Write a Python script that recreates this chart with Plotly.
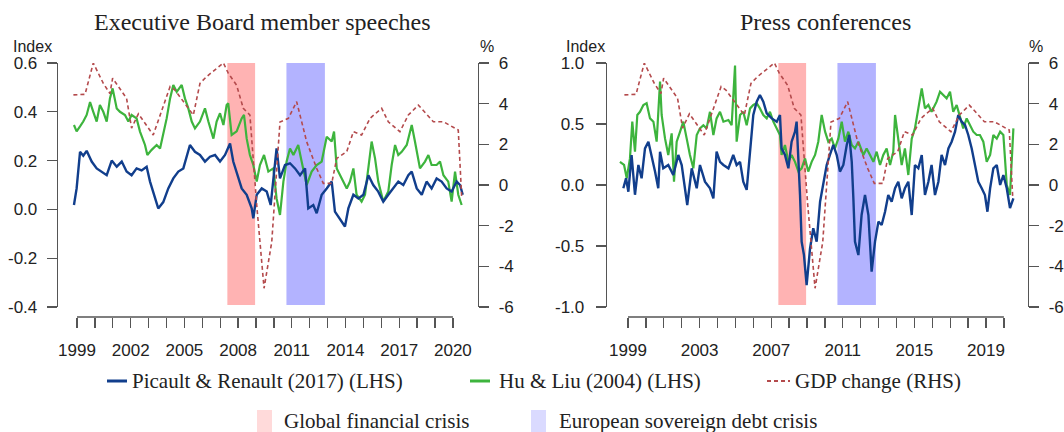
import plotly.graph_objects as go

# ---------------- data ----------------
gdp_year = [1998.80, 1999.45, 1999.91, 2000.47, 2000.84, 2000.99, 2001.77, 2002.05, 2002.43, 2003.26,
            2004.20, 2004.47, 2005.50, 2005.87, 2006.24, 2007.18, 2007.45, 2007.92, 2008.29, 2008.66,
            2009.04, 2009.45, 2009.88, 2010.34, 2010.81, 2011.27, 2011.83, 2012.39, 2012.76, 2013.23,
            2013.51, 2014.07, 2014.44, 2014.90, 2015.37, 2016.02, 2016.39, 2017.04, 2017.51, 2018.07,
            2018.91, 2019.47, 2020.30, 2020.49]
gdp_change = [4.43, 4.46, 6.0, 5.0, 4.5, 5.25, 4.26, 2.8, 3.5, 2.46,
              4.84, 4.67, 3.44, 5.0, 5.33, 6.0, 5.5, 4.9, 3.77, 3.44,
              -0.98, -5.08, -2.8, 3.1, 3.28, 4.1, 2.13, 0.82, 0.08, 0.08,
              1.31, 1.64, 2.62, 2.46, 3.28, 3.77, 3.11, 2.62, 3.44, 3.93,
              3.11, 3.11, 2.7, -0.57]

# Executive Board member speeches
eb_pr_year = [1998.83, 1998.98, 1999.17, 1999.35, 1999.54, 1999.82, 2000.10, 2000.38, 2000.66, 2000.94,
              2001.22, 2001.50, 2001.77, 2002.05, 2002.33, 2002.61, 2002.89, 2003.08, 2003.36, 2003.54,
              2003.82, 2004.10, 2004.38, 2004.66, 2004.94, 2005.13, 2005.31, 2005.59, 2005.87, 2006.15,
              2006.43, 2006.71, 2006.99, 2007.27, 2007.55, 2007.73, 2007.92, 2008.20, 2008.48, 2008.76,
              2008.85, 2009.04, 2009.32, 2009.60, 2009.82, 2010.06, 2010.15, 2010.34, 2010.62, 2010.90,
              2011.18, 2011.46, 2011.74, 2011.92, 2012.20, 2012.39, 2012.67, 2012.95, 2013.23, 2013.41,
              2013.69, 2013.97, 2014.16, 2014.44, 2014.72, 2015.00, 2015.28, 2015.55, 2015.83, 2016.11,
              2016.39, 2016.67, 2016.95, 2017.23, 2017.51, 2017.70, 2017.98, 2018.26, 2018.53, 2018.81,
              2019.09, 2019.37, 2019.65, 2019.93, 2020.21, 2020.40, 2020.55]
eb_pr = [0.018, 0.086, 0.236, 0.22, 0.24, 0.196, 0.168, 0.155, 0.14, 0.20,
         0.175, 0.196, 0.155, 0.14, 0.168, 0.16, 0.175, 0.114, 0.045, 0.004,
         0.03, 0.086, 0.127, 0.155, 0.168, 0.223, 0.264, 0.236, 0.223, 0.196,
         0.216, 0.223, 0.196, 0.223, 0.27, 0.196, 0.155, 0.086, 0.06, 0.004,
         -0.037, 0.06, 0.086, 0.073, 0.018, 0.196, 0.25, 0.127, 0.182, 0.189,
         0.168, 0.14, 0.168, 0.004, 0.018, -0.016, 0.06, 0.086, 0.114, -0.009,
         -0.037, -0.07, 0.004, 0.06, 0.045, 0.06, 0.14, 0.10, 0.073, 0.032,
         0.06, 0.086, 0.114, 0.10, 0.14, 0.155, 0.086, 0.06, 0.114, 0.086,
         0.127, 0.114, 0.086, 0.073, 0.114, 0.10, 0.06]

eb_hl_year = [1998.83, 1998.98, 1999.17, 1999.35, 1999.54, 1999.73, 1999.91, 2000.10, 2000.28, 2000.47,
              2000.66, 2000.84, 2000.99, 2001.22, 2001.40, 2001.68, 2001.87, 2002.05, 2002.33, 2002.52,
              2002.80, 2002.93, 2003.17, 2003.45, 2003.64, 2003.82, 2004.01, 2004.20, 2004.38, 2004.57,
              2004.85, 2005.03, 2005.22, 2005.41, 2005.59, 2005.87, 2006.15, 2006.34, 2006.62, 2006.80,
              2006.99, 2007.18, 2007.36, 2007.45, 2007.64, 2007.92, 2008.20, 2008.33, 2008.48, 2008.66,
              2008.85, 2009.04, 2009.22, 2009.45, 2009.69, 2009.97, 2010.15, 2010.34, 2010.53, 2010.71,
              2010.90, 2011.09, 2011.36, 2011.55, 2011.83, 2012.11, 2012.39, 2012.67, 2012.95, 2013.23,
              2013.36, 2013.51, 2013.79, 2014.07, 2014.25, 2014.44, 2014.62, 2014.90, 2015.09, 2015.28,
              2015.46, 2015.65, 2015.83, 2016.11, 2016.39, 2016.58, 2016.77, 2016.95, 2017.14, 2017.42,
              2017.70, 2017.88, 2018.16, 2018.44, 2018.63, 2018.81, 2019.09, 2019.28, 2019.47, 2019.74,
              2019.93, 2020.12, 2020.30, 2020.49]
eb_hl = [0.346, 0.32, 0.34, 0.36, 0.387, 0.44, 0.40, 0.36, 0.428, 0.40,
         0.36, 0.455, 0.496, 0.414, 0.40, 0.387, 0.36, 0.387, 0.373, 0.319,
         0.264, 0.223, 0.244, 0.264, 0.25, 0.305, 0.373, 0.455, 0.51, 0.482,
         0.51, 0.455, 0.414, 0.36, 0.332, 0.36, 0.414, 0.36, 0.29, 0.36,
         0.394, 0.346, 0.428, 0.435, 0.305, 0.32, 0.373, 0.387, 0.29, 0.223,
         0.182, 0.114, 0.182, 0.223, 0.155, 0.168, 0.045, -0.023, 0.114, 0.196,
         0.25, 0.223, 0.264, 0.196, 0.10, 0.155, 0.182, 0.196, 0.298, 0.278,
         0.319, 0.168, 0.127, 0.086, 0.114, 0.168, 0.06, 0.032, 0.06, 0.182,
         0.278, 0.209, 0.114, 0.032, 0.073, 0.182, 0.264, 0.223, 0.236, 0.264,
         0.346, 0.278, 0.168, 0.196, 0.223, 0.182, 0.182, 0.196, 0.14, 0.114,
         0.032, 0.155, 0.06, 0.018]

# Press conferences
pc_pr_year = [1998.74, 1998.89, 1999.02, 1999.20, 1999.39, 1999.58, 1999.76, 1999.95, 2000.14, 2000.32,
              2000.51, 2000.69, 2000.79, 2000.97, 2001.25, 2001.53, 2001.81, 2002.00, 2002.18, 2002.31,
              2002.56, 2002.84, 2003.02, 2003.30, 2003.58, 2003.77, 2003.95, 2004.14, 2004.33, 2004.61,
              2004.88, 2005.07, 2005.26, 2005.44, 2005.63, 2005.82, 2006.00, 2006.19, 2006.37, 2006.56,
              2006.75, 2007.03, 2007.31, 2007.49, 2007.58, 2007.77, 2007.96, 2008.14, 2008.33, 2008.42,
              2008.52, 2008.61, 2008.70, 2008.83, 2008.98, 2009.17, 2009.35, 2009.54, 2009.73, 2009.91,
              2010.10, 2010.28, 2010.47, 2010.66, 2010.84, 2011.03, 2011.22, 2011.36, 2011.50, 2011.59,
              2011.68, 2011.87, 2012.05, 2012.24, 2012.43, 2012.61, 2012.80, 2012.99, 2013.17, 2013.36,
              2013.54, 2013.73, 2013.92, 2014.10, 2014.29, 2014.47, 2014.66, 2014.85, 2015.03, 2015.22,
              2015.41, 2015.59, 2015.78, 2015.96, 2016.15, 2016.34, 2016.52, 2016.71, 2016.90, 2017.08,
              2017.27, 2017.45, 2017.64, 2017.83, 2018.01, 2018.20, 2018.39, 2018.57, 2018.76, 2018.94,
              2019.08, 2019.23, 2019.41, 2019.60, 2019.79, 2019.97, 2020.16, 2020.34, 2020.53]
pc_pr = [-0.027, 0.055, -0.055, 0.246, -0.08, 0.164, 0.055, 0.30, 0.355, 0.246,
         0.11, -0.027, 0.273, 0.137, 0.164, 0.082, 0.246, 0.164, -0.027, -0.164,
         0.137, -0.027, 0.164, 0.027, -0.027, -0.109, 0.273, 0.19, 0.164, 0.137,
         0.246, 0.164, 0.19, 0.027, -0.04, 0.246, 0.574, 0.683, 0.738, 0.683,
         0.587, 0.546, 0.519, 0.574, 0.30, 0.246, 0.137, 0.355, 0.437, 0.519,
         0.246, -0.082, -0.464, -0.574, -0.82, -0.52, -0.355, -0.464, -0.137, 0.027,
         0.164, 0.246, 0.328, 0.246, 0.11, 0.164, 0.328, 0.41, 0.19, -0.109,
         -0.464, -0.574, -0.246, -0.082, -0.246, -0.71, -0.464, -0.30, -0.328, -0.219,
         -0.082, -0.137, -0.027, 0.027, -0.109, -0.027, 0.027, -0.246, 0.164, 0.137,
         0.246, -0.082, 0.027, 0.164, -0.082, 0.027, 0.246, 0.164, 0.30, 0.355,
         0.437, 0.574, 0.519, 0.49, 0.41, 0.30, 0.164, 0.027, -0.027, -0.082,
         -0.219, -0.027, 0.137, 0.164, 0.0, 0.082, -0.027, -0.19, -0.11]

pc_hl_year = [1998.55, 1998.78, 1998.93, 1999.11, 1999.24, 1999.39, 1999.52, 1999.67, 1999.86, 2000.04,
              2000.23, 2000.42, 2000.60, 2000.79, 2000.88, 2001.07, 2001.25, 2001.44, 2001.57, 2001.72,
              2001.91, 2002.09, 2002.28, 2002.46, 2002.65, 2002.84, 2003.02, 2003.21, 2003.39, 2003.58,
              2003.77, 2003.95, 2004.14, 2004.33, 2004.61, 2004.79, 2004.98, 2005.07, 2005.26, 2005.44,
              2005.63, 2005.82, 2006.00, 2006.19, 2006.37, 2006.56, 2006.75, 2006.93, 2007.12, 2007.31,
              2007.49, 2007.58, 2007.77, 2007.96, 2008.14, 2008.33, 2008.52, 2008.70, 2008.89, 2009.07,
              2009.26, 2009.45, 2009.63, 2009.82, 2010.01, 2010.19, 2010.38, 2010.56, 2010.75, 2010.94,
              2011.12, 2011.31, 2011.50, 2011.68, 2011.87, 2012.15, 2012.33, 2012.52, 2012.71, 2012.89,
              2013.08, 2013.26, 2013.45, 2013.64, 2013.82, 2013.92, 2014.10, 2014.29, 2014.47, 2014.66,
              2014.85, 2015.03, 2015.22, 2015.41, 2015.59, 2015.78, 2015.96, 2016.24, 2016.43, 2016.62,
              2016.80, 2016.99, 2017.17, 2017.36, 2017.55, 2017.73, 2017.92, 2018.11, 2018.29, 2018.48,
              2018.66, 2018.85, 2019.04, 2019.23, 2019.41, 2019.60, 2019.79, 2019.97, 2020.16, 2020.34,
              2020.53]
pc_hl = [0.19, 0.164, 0.055, 0.218, 0.519, 0.273, 0.574, 0.60, 0.656, 0.67,
         0.546, 0.519, 0.355, 0.847, 0.574, 0.38, 0.246, 0.423, 0.027, 0.355,
         0.437, 0.519, 0.38, 0.246, 0.137, 0.41, 0.464, 0.49, 0.464, 0.60,
         0.41, 0.546, 0.60, 0.519, 0.533, 0.49, 0.98, 0.355, 0.574, 0.60,
         0.49, 0.628, 0.656, 0.67, 0.628, 0.574, 0.546, 0.60, 0.519, 0.464,
         0.41, 0.246, 0.328, 0.19, 0.246, 0.19, 0.11, 0.137, 0.218, 0.11,
         0.19, 0.246, 0.355, 0.574, 0.437, 0.355, 0.38, 0.30, 0.38, 0.519,
         0.355, 0.437, 0.328, 0.30, 0.355, 0.246, 0.30, 0.246, 0.19, 0.273,
         0.164, 0.246, 0.30, 0.164, 0.273, 0.574, 0.38, 0.164, 0.30, 0.082,
         0.38, 0.464, 0.628, 0.792, 0.628, 0.656, 0.60, 0.683, 0.765, 0.738,
         0.71, 0.765, 0.60, 0.656, 0.546, 0.464, 0.546, 0.49, 0.437, 0.41,
         0.41, 0.355, 0.19, 0.246, 0.41, 0.38, 0.437, 0.41, 0.0, -0.082,
         0.464]

# crisis periods (start, end)
gfc_period = [2007.40, 2008.95]
esdc_period = [2010.70, 2012.85]

# ticks and labels
years = list(range(1999, 2021))
left_xlabels = [str(y) if (y - 1999) % 3 == 0 else "" for y in years]
right_xlabels = [str(y) if (y - 1999) % 4 == 0 else "" for y in years]
eb_idx_ticks = [-0.4, -0.2, 0.0, 0.2, 0.4, 0.6]
eb_idx_text = ["-0.4", "-0.2", "0.0", "0.2", "0.4", "0.6"]
pc_idx_ticks = [-1.0, -0.5, 0.0, 0.5, 1.0]
pc_idx_text = ["-1.0", "-0.5", "0.0", "0.5", "1.0"]
pct_ticks = [-6, -4, -2, 0, 2, 4, 6]
pct_text = ["-6", "-4", "-2", "0", "2", "4", "6"]

titles = ["Executive Board member speeches", "Press conferences"]
series_names = ["Picault & Renault (2017) (LHS)", "Hu & Liu (2004) (LHS)", "GDP change (RHS)"]
crisis_names = ["Global financial crisis", "European sovereign debt crisis"]

# ---------------- style ----------------
W, H = 1064, 432
BLUE = "#113E8C"
GREEN = "#3DB43D"
RED = "#B44A4C"
AX = "#555555"
TXT = "#222222"
PINK = "#FFB3B3"
LILAC = "#B3B3FF"
PINK_L = "#FFDADA"
LILAC_L = "#DADAFF"
SANS = "Liberation Sans, Arial, sans-serif"
SERIF = "Liberation Serif, Times New Roman, serif"


def fx(p):
    return p / W


def fy(p):
    return 1 - p / H


fig = go.Figure()

panels = [
    dict(x="x", yl="y", yr="y2", pr=(eb_pr_year, eb_pr), hl=(eb_hl_year, eb_hl)),
    dict(x="x2", yl="y3", yr="y4", pr=(pc_pr_year, pc_pr), hl=(pc_hl_year, pc_hl)),
]
for p in panels:
    fig.add_trace(go.Scatter(x=p["hl"][0], y=p["hl"][1], xaxis=p["x"], yaxis=p["yl"], mode="lines",
                             line=dict(color=GREEN, width=2.2), showlegend=False, hoverinfo="skip"))
    fig.add_trace(go.Scatter(x=p["pr"][0], y=p["pr"][1], xaxis=p["x"], yaxis=p["yl"], mode="lines",
                             line=dict(color=BLUE, width=2.4), showlegend=False, hoverinfo="skip"))
    fig.add_trace(go.Scatter(x=gdp_year, y=gdp_change, xaxis=p["x"], yaxis=p["yr"], mode="lines",
                             line=dict(color=RED, width=1.6, dash="4px,3px"), showlegend=False,
                             hoverinfo="skip"))

shapes = []
for xr, yr in [("x", "y"), ("x2", "y3")]:
    for per, col in [(gfc_period, PINK), (esdc_period, LILAC)]:
        shapes.append(dict(type="rect", xref=xr, yref=yr + " domain", x0=per[0], x1=per[1], y0=0.008, y1=1,
                           fillcolor=col, line=dict(width=0), layer="below"))

X_AXIS_POS = fy(317)
for xr in ["x", "x2"]:
    shapes.append(dict(type="line", xref=xr, yref="paper", x0=years[0], x1=years[-1], y0=X_AXIS_POS,
                       y1=X_AXIS_POS, line=dict(color=AX, width=1.3)))

common_tick = dict(ticks="outside", ticklen=10, tickwidth=1.3, tickcolor=AX, showgrid=False, zeroline=False,
                   automargin=False, tickfont=dict(family=SANS, size=17, color=TXT))
ydom = [fy(307), fy(63)]

fig.update_layout(
    template="none",
    width=W, height=H, margin=dict(l=0, r=0, t=0, b=0, autoexpand=False),
    paper_bgcolor="white", plot_bgcolor="rgba(0,0,0,0)", showlegend=False,
    xaxis=dict(domain=[fx(58), fx(478)], range=[1997.939, 2021.402], anchor="free", position=X_AXIS_POS,
               showline=False, tickmode="array", tickvals=years, ticktext=left_xlabels,
               ticklabelstandoff=8, **common_tick),
    xaxis2=dict(domain=[fx(607), fx(1028)], range=[1997.827, 2021.346], anchor="free", position=X_AXIS_POS,
                showline=False, tickmode="array", tickvals=years, ticktext=right_xlabels,
                ticklabelstandoff=8, **common_tick),
    yaxis=dict(domain=ydom, range=[-0.4, 0.6], anchor="x", side="left", showline=True, linecolor=AX,
               linewidth=1.3, tickmode="array", tickvals=eb_idx_ticks, ticktext=eb_idx_text,
               ticklabelstandoff=6, **common_tick),
    yaxis2=dict(domain=ydom, range=[-6, 6], anchor="x", overlaying="y", side="right", showline=True,
                linecolor=AX, linewidth=1.3, tickmode="array", tickvals=pct_ticks, ticktext=pct_text,
                ticklabelstandoff=6, **common_tick),
    yaxis3=dict(domain=ydom, range=[-1, 1], anchor="x2", side="left", showline=True, linecolor=AX,
                linewidth=1.3, tickmode="array", tickvals=pc_idx_ticks, ticktext=pc_idx_text,
                ticklabelstandoff=8, **common_tick),
    yaxis4=dict(domain=ydom, range=[-6, 6], anchor="x2", overlaying="y3", side="right", showline=True,
                linecolor=AX, linewidth=1.3, tickmode="array", tickvals=pct_ticks, ticktext=pct_text,
                ticklabelstandoff=6, **common_tick),
)

ann = []
# titles
for t, cx in zip(titles, [262, 825]):
    ann.append(dict(text=t, x=fx(cx), y=fy(22), xref="paper", yref="paper", showarrow=False,
                    xanchor="center", yanchor="middle", font=dict(family=SERIF, size=24, color=TXT)))
# axis unit labels
for t, cx in [("Index", 32), ("%", 487), ("Index", 585), ("%", 1036)]:
    ann.append(dict(text=t, x=fx(cx), y=fy(47), xref="paper", yref="paper", showarrow=False,
                    xanchor="center", yanchor="middle", font=dict(family=SANS, size=16, color=TXT)))

# legend row 1 (lines)
LEG_Y1 = 381
leg1 = [(107, 127, 130, BLUE, "solid", 3), (470, 490, 497, GREEN, "solid", 3), (767, 790, 793, RED, "4px,3px", 2)]
for (x0, x1, tx, col, dash, wd), name in zip(leg1, series_names):
    shapes.append(dict(type="line", xref="paper", yref="paper", x0=fx(x0), x1=fx(x1), y0=fy(LEG_Y1),
                       y1=fy(LEG_Y1), line=dict(color=col, width=wd, dash=dash)))
    ann.append(dict(text=name, x=fx(tx), y=fy(LEG_Y1), xref="paper", yref="paper", showarrow=False,
                    xanchor="left", yanchor="middle", font=dict(family=SERIF, size=21, color=TXT)))
# legend row 2 (shaded areas)
LEG_Y2 = 421
leg2 = [(257, 272, 282, PINK_L), (531, 546, 557, LILAC_L)]
for (x0, x1, tx, col), name in zip(leg2, crisis_names):
    shapes.append(dict(type="rect", xref="paper", yref="paper", x0=fx(x0), x1=fx(x1), y0=fy(432),
                       y1=fy(410), fillcolor=col, line=dict(width=0)))
    ann.append(dict(text=name, x=fx(tx), y=fy(LEG_Y2), xref="paper", yref="paper", showarrow=False,
                    xanchor="left", yanchor="middle", font=dict(family=SERIF, size=21, color=TXT)))

fig.update_layout(shapes=shapes, annotations=ann)
fig.write_html("out.html", config={"displayModeBar": False, "staticPlot": True},
               post_script="document.body.style.margin='0px';document.body.style.overflow='hidden';")
